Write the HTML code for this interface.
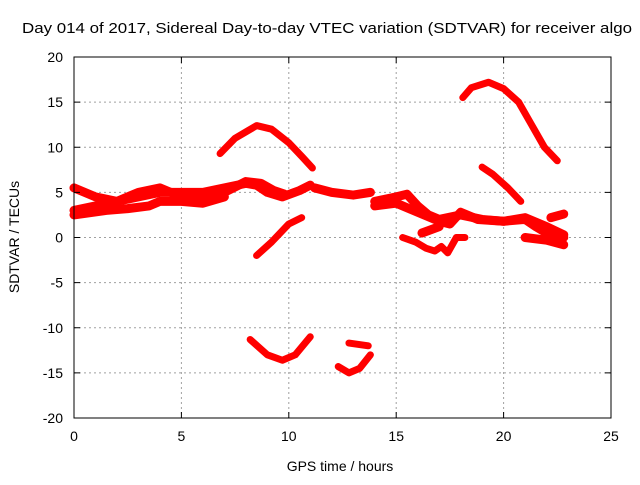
<!DOCTYPE html>
<html><head><meta charset="utf-8"><style>
body{margin:0;background:#fff}
svg text{font-family:"Liberation Sans",sans-serif;font-size:14px;fill:#000}
</style></head><body>
<svg id="chart" width="640" height="480" xmlns="http://www.w3.org/2000/svg">
<text x="22" y="33" textLength="610" lengthAdjust="spacingAndGlyphs" style="font-size:15px">Day 014 of 2017, Sidereal Day-to-day VTEC variation (SDTVAR) for receiver algo</text>
<g id="grid"></g>
<g id="series"></g>
<rect x="74" y="57" width="537" height="361" fill="none" stroke="#000" stroke-width="1"/>
<g id="ticks"></g>
<text x="340" y="471" text-anchor="middle">GPS time / hours</text>
<text transform="translate(19,237) rotate(-90)" text-anchor="middle">SDTVAR / TECUs</text>
</svg>
<script>
const xTicks=[0,5,10,15,20,25];
const yTicks=[-20,-15,-10,-5,0,5,10,15,20];
const segArcTop=[[6.8,9.3],[7.5,11],[8.5,12.4],[9.2,12],[10,10.5],[10.6,9],[11.1,7.7]];
const segArcLow=[[8.2,-11.3],[9,-13],[9.7,-13.6],[10.3,-13],[11,-11]];
const segRise=[[8.5,-2],[9.2,-0.5],[10,1.5],[10.6,2.2]];
const segDip=[[12.3,-14.3],[12.8,-15],[13.3,-14.5],[13.8,-13]];
const segSmall=[[12.8,-11.7],[13.7,-12]];
const segPeak=[[18.1,15.5],[18.5,16.6],[19.3,17.2],[20,16.5],[20.7,15],[21.3,12.5],[21.9,10],[22.5,8.5]];
const segFall=[[19,7.8],[19.5,7],[20.2,5.5],[20.8,4]];
const segNeg=[[15.3,0],[15.9,-0.5],[16.4,-1.2],[16.8,-1.5],[17.1,-1],[17.4,-1.7],[17.8,0],[18.2,0]];
const segBand1=[[0,3],[1,3.5],[2,4],[3,4.5],[4,5],[5,5],[6,5],[7,5.5],[8,6],[8.5,5.8],[9,5],[9.7,4.5],[10.5,5.2],[11,5.8]];
const segBand2=[[0,5.5],[1,4.5],[2,4],[3,5],[4,5.5],[5,4.5],[6,4.5],[7,5],[8,6.2],[8.7,6],[9.3,5.2],[9.8,4.8]];
const segBand3=[[0,2.5],[1.5,3],[2.5,3.2],[3.5,3.5],[4,4],[5,4],[6,3.8],[7,4.5]];
const segBlock=[[11.2,5.5],[12,5],[13,4.7],[13.8,5]];
const segTail1=[[14,4],[15,4.5],[15.5,4.8],[16,3.5],[16.5,2.5],[17,2],[18,2.5],[19,2],[20,1.8],[21,2],[21.5,1.2],[22,0.5],[22.8,0]];
const segTail2=[[14,3.5],[15,3.8],[16,2.8],[17,1.8],[17.5,1.5],[18,2.8],[18.8,2],[20,1.8],[21,2.2],[22,1.2],[22.8,0.3]];
const segTail3=[[16.2,0.5],[17,1.2]];
const segTail4=[[21,0],[22,-0.3],[22.8,-0.8]];
const segTail5=[[22.2,2.2],[22.8,2.6]];
const segments=[segArcTop,segArcLow,segRise,segDip,segSmall,segPeak,segFall,segNeg,segBand1,segBand2,segBand3,segBlock,segTail1,segTail2,segTail3,segTail4,segTail5];
const NS="http://www.w3.org/2000/svg";
const X=h=>74+h*537/25, Y=v=>237.5-v*361/40;
const grid=document.getElementById('grid'),ticks=document.getElementById('ticks'),ser=document.getElementById('series');
function mk(tag,attrs,parent){const e=document.createElementNS(NS,tag);for(const k in attrs)e.setAttribute(k,attrs[k]);parent.appendChild(e);return e;}
xTicks.forEach(t=>{
 const g=mk('line',{x1:X(t),x2:X(t),y1:57,y2:418,stroke:'#a0a0a0','stroke-dasharray':'2,3'},grid);
 
 
 mk('line',{x1:X(t),x2:X(t),y1:418,y2:412,stroke:'#000'},ticks);
 mk('line',{x1:X(t),x2:X(t),y1:57,y2:63,stroke:'#000'},ticks);
 const tx=mk('text',{x:X(t),y:441,'text-anchor':'middle'},ticks);tx.textContent=t;
 
 
});
yTicks.forEach(t=>{
 const g=mk('line',{x1:74,x2:611,y1:Y(t),y2:Y(t),stroke:'#a0a0a0','stroke-dasharray':'2,3'},grid);
 
 
 mk('line',{x1:74,x2:80,y1:Y(t),y2:Y(t),stroke:'#000'},ticks);
 mk('line',{x1:611,x2:605,y1:Y(t),y2:Y(t),stroke:'#000'},ticks);
 const tx=mk('text',{x:63,y:Y(t)+5,'text-anchor':'end'},ticks);tx.textContent=t;
 
 
});
segments.forEach((s,i)=>{
 const w=(i>=8)?9:7;
 const p=mk('polyline',{points:s.map(d=>X(d[0])+','+Y(d[1])).join(' '),fill:'none',stroke:'#ff0000','stroke-width':w,'stroke-linejoin':'round','stroke-linecap':'round'},ser);
 
 
});
</script>
</body></html>
